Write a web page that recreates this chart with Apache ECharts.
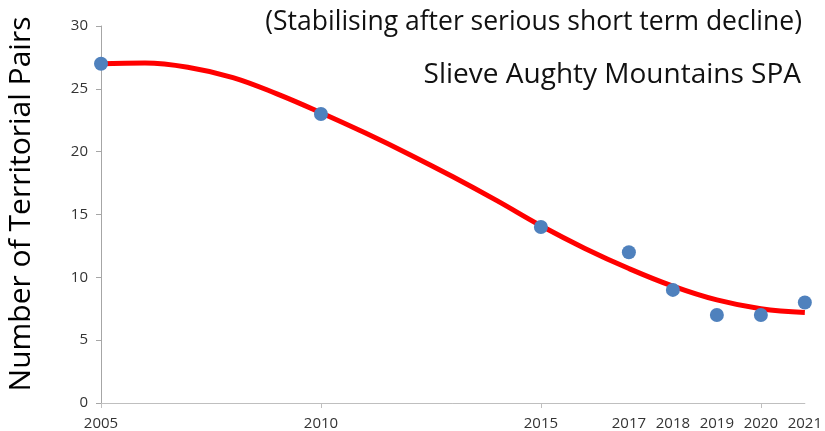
<!DOCTYPE html>
<html><head><meta charset="utf-8">
<script src="https://cdn.jsdelivr.net/npm/echarts@6/dist/echarts.min.js"></script>
<style>html,body{margin:0;padding:0;background:#fff}#c{width:825px;height:431px}</style>
</head><body><div id="c"></div>
<script>
const years = [2005, 2010, 2015, 2017, 2018, 2019, 2020, 2021];
const pairs = [27, 23, 14, 12, 9, 7, 7, 8];
const trendYears = [2005, 2006, 2007, 2008, 2009, 2010, 2011, 2012, 2013, 2014, 2015, 2016, 2017, 2018, 2019, 2020, 2021];
const trendValues = [27.0, 27.05, 26.7, 25.9, 24.6, 23.1, 21.5, 19.8, 18.0, 16.1, 14.1, 12.3, 10.7, 9.3, 8.2, 7.5, 7.2];
const xLabelYears = [2005, 2010, 2015, 2017, 2018, 2019, 2020, 2021];
const xTickYears = [2005, 2010, 2015, 2020];
const titleLine1 = '(Stabilising after serious short term decline)';
const titleLine2 = 'Slieve Aughty Mountains SPA';
const yName = 'Number of Territorial Pairs';

const F = '"Open Sans", sans-serif';
const chart = echarts.init(document.getElementById('c'), null, {renderer: 'canvas'});
chart.setOption({
  animation: false,
  backgroundColor: '#fff',
  title: [
    {text: titleLine1, right: 18, top: 4, textStyle: {fontFamily: F, fontSize: 26.5, fontWeight: 'normal', color: '#111'}},
    {text: titleLine2, right: 19, top: 56, textStyle: {fontFamily: F, fontSize: 28, fontWeight: 'normal', color: '#111'}}
  ],
  graphic: [{
    type: 'text', x: 21, y: 204, rotation: Math.PI / 2,
    style: {text: yName, fontFamily: F, fontSize: 30, fill: '#000', align: 'center', verticalAlign: 'middle'}
  }],
  grid: {left: 101, right: 20, top: 26, bottom: 27, containLabel: false},
  xAxis: {
    type: 'value', min: 2005, max: 2021,
    axisLine: {show: true, lineStyle: {color: '#BFBFBF', width: 1}},
    axisTick: {show: true, customValues: xTickYears, length: 5, lineStyle: {color: '#BFBFBF'}},
    axisLabel: {customValues: xLabelYears, formatter: v => String(v), fontFamily: F, fontSize: 15, color: '#333', margin: 13},
    splitLine: {show: false}
  },
  yAxis: {
    type: 'value', min: 0, max: 30, interval: 5,
    axisLine: {show: true, lineStyle: {color: '#A6A6A6', width: 1}},
    axisTick: {show: true, length: 5, lineStyle: {color: '#A6A6A6'}},
    axisLabel: {fontFamily: F, fontSize: 15, color: '#333', margin: 13},
    splitLine: {show: false}
  },
  series: [
    {
      type: 'line', data: trendYears.map((y, i) => [y, trendValues[i]]),
      smooth: 0.4, symbol: 'none', lineStyle: {color: '#FF0000', width: 5}, z: 2
    },
    {
      type: 'scatter', data: years.map((y, i) => [y, pairs[i]]),
      symbolSize: 14, itemStyle: {color: '#4F81BD', opacity: 1}, z: 3
    }
  ]
});
</script></body></html>
